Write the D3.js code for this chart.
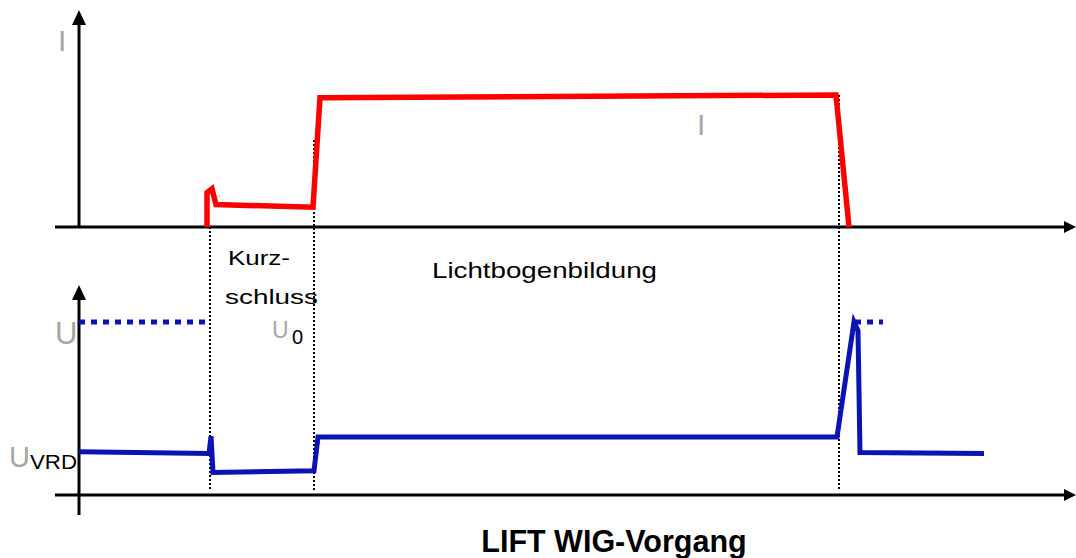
<!DOCTYPE html>
<html>
<head>
<meta charset="utf-8">
<script src="https://d3js.org/d3.v7.min.js"></script>
<style>
  body { margin: 0; background: #fff; }
  svg { display: block; font-family: "Liberation Sans", Arial, sans-serif; }
</style>
</head>
<body>
<div id="chart"></div>
<script>
// time in arbitrary units, current / voltage in % of max
const currentT = [128, 128, 133, 137, 234, 241, 757, 770];
const currentV = [0, 26, 29, 17, 15, 98, 100, 0];

const voltT = [0, 130, 132, 134, 235, 239, 758, 775, 779, 781, 905];
const voltV = [25, 24, 34, 13, 14, 33.5, 33.5, 100, 95, 24.5, 24];

const openT = [[0, 126], [776, 804]]; // Leerlaufspannung (gestrichelt)
const openV = 100;

const phaseT = [131, 235, 760];
const phaseTop = [0, 66, 100]; // oberes Ende der Trennlinien (in % Strom)

const width = 1076, height = 558;

const svg = d3.select("#chart").append("svg")
    .attr("width", width)
    .attr("height", height);

const x = d3.scaleLinear().domain([0, 1000]).range([79, 1079]);
const yI = d3.scaleLinear().domain([0, 100]).range([227, 95]);
const yU = d3.scaleLinear().domain([0, 100]).range([495, 322]);

// phase separators
phaseT.forEach((t, i) => {
    svg.append("line")
        .attr("x1", x(t)).attr("x2", x(t))
        .attr("y1", yI(phaseTop[i])).attr("y2", yU(0) - 4)
        .attr("stroke", "#000")
        .attr("stroke-width", 2)
        .attr("stroke-dasharray", "2,2");
});

// axes
function axis(y0, yTop, yBottom) {
    svg.append("line")
        .attr("x1", 55).attr("x2", 1066)
        .attr("y1", y0).attr("y2", y0)
        .attr("stroke", "#000").attr("stroke-width", 3);
    svg.append("path")
        .attr("d", `M1076,${y0} L1064,${y0 - 6} L1064,${y0 + 6} Z`)
        .attr("fill", "#000");
    svg.append("line")
        .attr("x1", x(0)).attr("x2", x(0))
        .attr("y1", yBottom).attr("y2", yTop + 12)
        .attr("stroke", "#000").attr("stroke-width", 3);
    svg.append("path")
        .attr("d", `M${x(0)},${yTop} L${x(0) - 7},${yTop + 15} L${x(0) + 7},${yTop + 15} Z`)
        .attr("fill", "#000");
}
axis(yI(0), 10, yI(0));
axis(yU(0), 285, 515);

const lineI = d3.line().x(d => x(d[0])).y(d => yI(d[1]));
const lineU = d3.line().x(d => x(d[0])).y(d => yU(d[1]));

// open-circuit voltage dashes
openT.forEach(seg => {
    svg.append("path")
        .attr("d", lineU([[seg[0], openV], [seg[1], openV]]))
        .attr("stroke", "#0a14b4")
        .attr("stroke-width", 5)
        .attr("stroke-dasharray", "6,6")
        .attr("fill", "none");
});

svg.append("path")
    .attr("d", lineI(d3.zip(currentT, currentV)))
    .attr("stroke", "#ff0000")
    .attr("stroke-width", 5.5)
    .attr("stroke-linejoin", "miter")
    .attr("fill", "none");

svg.append("path")
    .attr("d", lineU(d3.zip(voltT, voltV)))
    .attr("stroke", "#0a14b4")
    .attr("stroke-width", 5)
    .attr("stroke-linejoin", "miter")
    .attr("fill", "none");

// labels (text in the original is slightly distorted, so widths are fixed)
const grey = "#a6a6a6";
function label(str, px, py, size, len, fill = "#000", weight = "normal") {
    const t = svg.append("text")
        .attr("x", px).attr("y", py)
        .attr("font-size", size)
        .attr("font-weight", weight)
        .attr("fill", fill)
        .text(str);
    if (len) t.attr("textLength", len).attr("lengthAdjust", "spacingAndGlyphs");
    return t;
}

label("I", 58, 51, 30, null, grey);
label("I", 697, 135, 30, null, grey);

label("U", 55, 344, 31, null, grey);

label("U", 272, 338, 23, null, grey);
label("0", 292, 344, 20, null);

label("U", 9, 467, 29, null, grey);
label("VRD", 30, 469, 20, 47);

label("Kurz-", 228, 265, 21, 62);
label("schluss", 225, 304, 21, 93);
label("Lichtbogenbildung", 432, 278, 22, 225);

svg.append("text").attr("x", 614).attr("y", 552)
    .attr("text-anchor", "middle")
    .attr("font-size", 30.5).attr("font-weight", "bold")
    .text("LIFT WIG-Vorgang");
</script>
</body>
</html>
